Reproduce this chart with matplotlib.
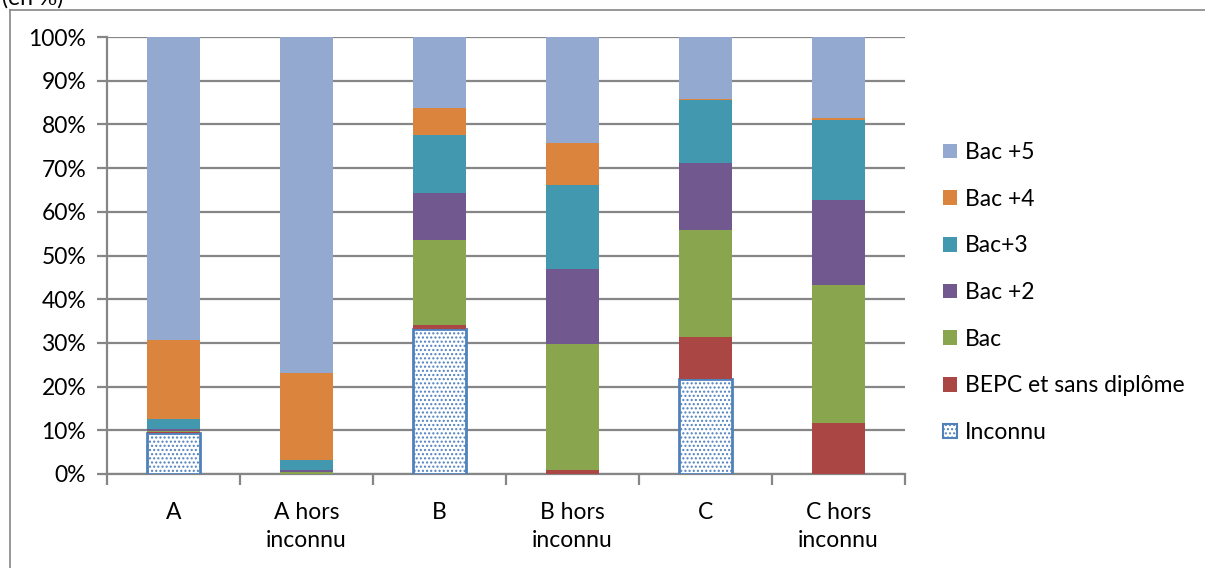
import matplotlib
matplotlib.use("Agg")
import matplotlib.pyplot as plt
from matplotlib.patches import Patch
from matplotlib.lines import Line2D
import numpy as np

plt.rcParams['font.family'] = ['Lato', 'DejaVu Sans']
plt.rcParams['hatch.linewidth'] = 1.0

categories = ["A", "A hors\ninconnu", "B", "B hors\ninconnu", "C", "C hors\ninconnu"]
series_names = ["Inconnu", "BEPC et sans diplôme", "Bac", "Bac +2", "Bac+3", "Bac +4", "Bac +5"]
inconnu = [9.4, 0.0, 33.1, 0.0, 21.8, 0.0]
bepc = [0.1, 0.1, 1.0, 1.0, 9.6, 11.7]
bac = [0.3, 0.3, 19.5, 28.7, 24.4, 31.5]
bac2 = [0.6, 0.6, 10.7, 17.2, 15.4, 19.4]
bac3 = [2.2, 2.3, 13.2, 19.3, 14.4, 18.4]
bac4 = [18.1, 19.7, 6.2, 9.5, 0.2, 0.5]
bac5 = [69.3, 77.0, 16.3, 24.3, 14.2, 18.5]
yticks = [0, 10, 20, 30, 40, 50, 60, 70, 80, 90, 100]

colors = {
    "BEPC et sans diplôme": "#AA4643",
    "Bac": "#89A54E",
    "Bac +2": "#71588F",
    "Bac+3": "#4198AF",
    "Bac +4": "#DB843D",
    "Bac +5": "#93A9CF",
}
blue = "#4F81BD"
grid = "#868686"
FS = 16.5

W, H = 1205, 568
fig = plt.figure(figsize=(W / 100, H / 100), dpi=100)
ax = fig.add_axes([107 / W, 1 - 474 / H, (905 - 107) / W, (474 - 37) / H])

x = np.arange(len(categories))
width = 0.4
bottom = np.zeros(len(categories))

ax.bar(x, inconnu, width, bottom=bottom, color="white", edgecolor=blue,
       hatch="....", linewidth=2, zorder=3)
bottom += np.array(inconnu)
for name, vals in [("BEPC et sans diplôme", bepc), ("Bac", bac), ("Bac +2", bac2),
                   ("Bac+3", bac3), ("Bac +4", bac4), ("Bac +5", bac5)]:
    ax.bar(x, vals, width, bottom=bottom, color=colors[name], edgecolor="none",
           linewidth=0, zorder=3)
    bottom += np.array(vals)

ax.set_xlim(-0.5, len(categories) - 0.5)
ax.set_ylim(0, 100)
ax.set_yticks(yticks)
ax.set_yticklabels([f"{v}%" for v in yticks])
ax.yaxis.grid(True, color=grid, linewidth=1.6, zorder=0)
ax.set_axisbelow(True)

for s in ["top", "right"]:
    ax.spines[s].set_visible(False)
ax.spines["left"].set_color(grid)
ax.spines["left"].set_linewidth(1.6)
ax.spines["bottom"].set_color(grid)
ax.spines["bottom"].set_linewidth(1.6)

ax.tick_params(axis="y", length=7, width=1.6, color=grid, labelsize=FS, pad=8)
ax.set_xticks(x)
ax.set_xticklabels(categories, fontsize=FS, linespacing=1.45)
ax.tick_params(axis="x", length=0, pad=20)
ax.set_xticks(np.arange(0.5, len(categories) - 0.5 + 0.01, 1.0).tolist() + [-0.5], minor=True)
ax.tick_params(axis="x", which="minor", length=8, width=1.6, color=grid)

handles = [Patch(facecolor=colors[n], edgecolor="none") for n in
           ["Bac +5", "Bac +4", "Bac+3", "Bac +2", "Bac", "BEPC et sans diplôme"]]
handles.append(Patch(facecolor="white", edgecolor=blue, hatch="....", linewidth=1.5))
labels = ["Bac +5", "Bac +4", "Bac+3", "Bac +2", "Bac", "BEPC et sans diplôme", "Inconnu"]
leg = fig.legend(handles, labels, loc="upper left",
                 bbox_to_anchor=(943 / W, 1 - 142 / H), frameon=False,
                 fontsize=FS, handlelength=0.6, handleheight=0.6,
                 handletextpad=0.36, labelspacing=1.12, borderaxespad=0,
                 borderpad=0)

# outer frame (left and top)
fig.add_artist(Line2D([10 / W, 10 / W], [0, 1 - 10 / H], color=grid, linewidth=1.2,
                      transform=fig.transFigure))
fig.add_artist(Line2D([10 / W, 1], [1 - 10 / H, 1 - 10 / H], color=grid, linewidth=1.2,
                      transform=fig.transFigure))
fig.text(2 / W, 1 - 5 / H, "(en %)", fontsize=FS, va="baseline", ha="left")

fig.savefig("out.png", dpi=100, facecolor="white")
